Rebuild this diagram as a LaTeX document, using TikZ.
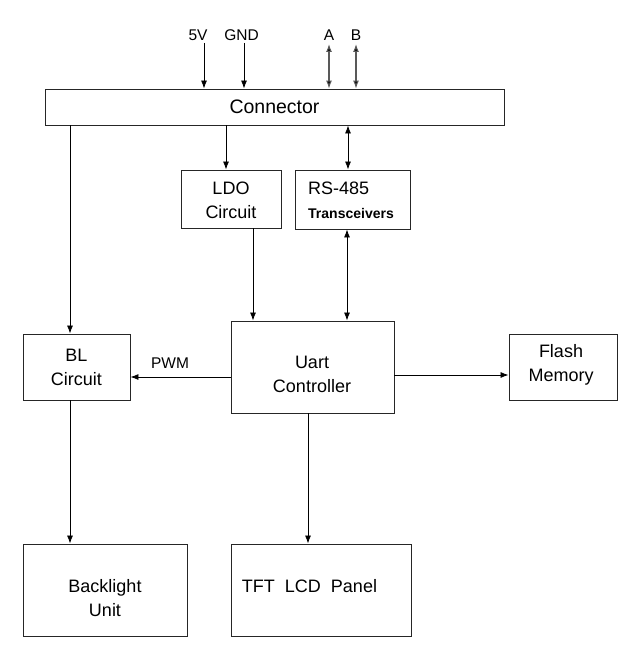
\documentclass[tikz,border=0pt]{standalone}
\usepackage{fontspec}
\setmainfont{Liberation Sans}
\usetikzlibrary{arrows.meta}
\begin{document}
\begin{tikzpicture}[x=1pt,y=-1pt,
  box/.style={draw=black!85,line width=0.9pt,inner sep=0pt,rectangle},
  txt/.style={font=\fontsize{18}{24}\selectfont,align=center,inner sep=0pt},
  lbl/.style={font=\fontsize{15.5}{18}\selectfont,inner sep=0pt},
  arr/.style={line width=0.8pt,-{Latex[length=8pt,width=6pt]}},
  darr/.style={line width=1.1pt,draw=black!65,{Latex[length=8pt,width=6pt,fill=black]}-{Latex[length=8pt,width=6pt,fill=black]}},
  darrb/.style={line width=0.8pt,{Latex[length=8pt,width=6pt]}-{Latex[length=8pt,width=6pt]}}]
\useasboundingbox (0,0) rectangle (638,663);
% boxes
\node[box,minimum width=459pt,minimum height=36pt] (conn) at (274.5,107) {};
\node[box,minimum width=100pt,minimum height=58pt] (ldo) at (231,199) {};
\node[box,minimum width=115pt,minimum height=59pt] (rs) at (352.5,199.5) {};
\node[box,minimum width=107pt,minimum height=66pt] (bl) at (76.5,367) {};
\node[box,minimum width=163pt,minimum height=92pt] (uart) at (312.5,367) {};
\node[box,minimum width=108pt,minimum height=66pt] (flash) at (563,367) {};
\node[box,minimum width=164pt,minimum height=92pt] (blu) at (105,590) {};
\node[box,minimum width=180pt,minimum height=92pt] (tft) at (321,590) {};
% texts
\node[txt,font=\fontsize{19.5}{24}\selectfont] (connT) at (274.5,107) {Connector};
\node[txt] (ldoT) at (231,200) {LDO\\Circuit};
\node[txt,align=left] (rsT) at (351,200) {RS-485\\{\fontsize{14}{16}\selectfont\bfseries Transceivers}};
\node[txt] (blT) at (76.5,367) {BL\\Circuit};
\node[txt] (uartT) at (312,374) {Uart\\Controller};
\node[txt] (flashT) at (561,365) {Flash\\Memory};
\node[txt] (bluT) at (105,598) {Backlight\\Unit};
\node[txt] (tftT) at (309.5,586) {TFT\ \ LCD\ \ Panel};
\node[lbl] (pwm) at (170,363) {PWM};
\node[lbl] (l5v) at (198,35) {5V};
\node[lbl] (lgnd) at (241.5,35) {GND};
\node[lbl] (la) at (329,35) {A};
\node[lbl] (lb) at (356,35) {B};
% coordinates
\coordinate (s5v) at (204,43);
\coordinate (sgnd) at (244,43);
\coordinate (sa) at (329,44);
\coordinate (sb) at (356,44);
\coordinate (xbl) at (70,0);
\coordinate (xldo) at (226,0);
\coordinate (xrs) at (348,0);
\coordinate (xldo2) at (253,0);
\coordinate (xrs2) at (347,0);
\coordinate (xtft) at (308,0);
\coordinate (ypwm) at (0,377);
\coordinate (yfl) at (0,375);
% connectors
\draw[arr] (s5v) -- (s5v |- conn.north);
\draw[arr] (sgnd) -- (sgnd |- conn.north);
\draw[darr] (sa) -- (sa |- conn.north);
\draw[darr] (sb) -- (sb |- conn.north);
\draw[arr] (conn.south -| xldo) -- (ldo.north -| xldo);
\draw[darrb] (conn.south -| xrs) -- (rs.north -| xrs);
\draw[arr] (conn.south -| xbl) -- (bl.north -| xbl);
\draw[arr] (ldo.south -| xldo2) -- (uart.north -| xldo2);
\draw[darrb] (rs.south -| xrs2) -- (uart.north -| xrs2);
\draw[arr] (uart.west |- ypwm) -- (bl.east |- ypwm);
\draw[arr] (uart.east |- yfl) -- (flash.west |- yfl);
\draw[arr] (bl.south -| xbl) -- (blu.north -| xbl);
\draw[arr] (uart.south -| xtft) -- (tft.north -| xtft);
\end{tikzpicture}
\end{document}
